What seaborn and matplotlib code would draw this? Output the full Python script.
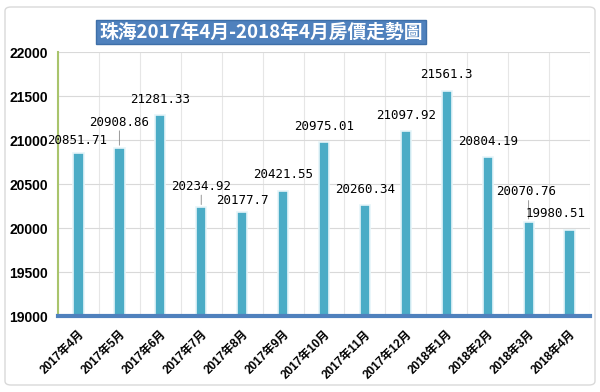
import matplotlib
matplotlib.use("Agg")
import matplotlib.pyplot as plt
import seaborn as sns
import pandas as pd
from matplotlib.patches import FancyBboxPatch

months = ["2017年4月", "2017年5月", "2017年6月", "2017年7月", "2017年8月", "2017年9月",
          "2017年10月", "2017年11月", "2017年12月", "2018年1月", "2018年2月", "2018年3月",
          "2018年4月"]
prices = [20851.71, 20908.86, 21281.33, 20234.92, 20177.7, 20421.55,
          20975.01, 20260.34, 21097.92, 21561.3, 20804.19, 20070.76, 19980.51]
price_labels = ["20851.71", "20908.86", "21281.33", "20234.92", "20177.7", "20421.55",
                "20975.01", "20260.34", "21097.92", "21561.3", "20804.19", "20070.76",
                "19980.51"]
title = "珠海2017年4月-2018年4月房價走勢圖"

# label offsets (pixels) from each bar top
label_dx = [-1, 0, 0, 0, 0, 0, 0, 0, 0, 0, 0, -2, -14]
label_dy = [13, 26, 16, 21, 12, 16, 16, 16, 16, 16, 16, 30, 16]

df = pd.DataFrame({"month": months, "price": prices})

sns.set_theme(style="white")
plt.rcParams["font.family"] = ["Liberation Sans", "Noto Sans CJK SC", "DejaVu Sans"]

fig = plt.figure(figsize=(6, 3.92), dpi=100)
ax = fig.add_axes([58 / 600, 1 - 316 / 392, 532 / 600, 264 / 392])

sns.barplot(data=df, x="month", y="price", color="#4BACC6", saturation=1,
            width=0.25, edgecolor="#E6F5F9", linewidth=1.2, ax=ax, zorder=3)

ax.set_ylim(19000, 22000)
ax.set_xlim(-0.5, len(months) - 0.5)
ax.set_yticks(range(19000, 22001, 500))
ax.set_xticks([i - 0.5 for i in range(len(months) + 1)], minor=True)
ax.set_xlabel("")
ax.set_ylabel("")

ax.grid(axis="y", which="major", color="#D9D9D9", lw=0.8, zorder=0)
ax.grid(axis="x", which="minor", color="#E6E6E6", lw=0.8, zorder=0)
ax.set_axisbelow(True)

for s in ["top", "right"]:
    ax.spines[s].set_visible(False)
ax.spines["left"].set_color("#A9C46C")
ax.spines["left"].set_linewidth(1.5)
ax.spines["bottom"].set_color("#4F81BD")
ax.spines["bottom"].set_linewidth(3)
ax.spines["bottom"].set_zorder(5)

ax.tick_params(axis="x", which="major", length=0, pad=9)
ax.tick_params(axis="x", which="minor", length=4, width=1.5, color="#4F81BD", direction="out")
ax.tick_params(axis="y", length=0, pad=7)

for t in ax.get_yticklabels():
    t.set_fontsize(10)
    t.set_fontweight("bold")
    t.set_color("black")
for t in ax.get_xticklabels():
    t.set_fontsize(8.5)
    t.set_fontweight("bold")
    t.set_color("black")
    t.set_rotation(45)
    t.set_ha("right")
    t.set_va("top")
    t.set_rotation_mode("anchor")

for i, (v, lab) in enumerate(zip(prices, price_labels)):
    ax.annotate(lab, xy=(i, v), xytext=(label_dx[i], label_dy[i]),
                textcoords="offset pixels", ha="center", va="center",
                fontsize=9, family="DejaVu Sans Mono", color="black", zorder=6)
    if label_dy[i] > 20:
        ax.annotate("", xy=(i, v), xytext=(i, v + (label_dy[i] - 6) / 88 * 1000),
                    arrowprops=dict(arrowstyle="-", color="#888888", lw=0.6), zorder=6)

# title box
fig.text(261 / 600, 1 - 32 / 392, title, ha="center", va="center", fontsize=13.5,
         fontweight="bold", color="white", family=["Noto Sans CJK TC", "DejaVu Sans"],
         bbox=dict(boxstyle="square,pad=0.15", facecolor="#4F81BD", edgecolor="#3E6FA8"))

# outer frame
frame = FancyBboxPatch((5 / 600, 7 / 392), 590 / 600, 378 / 392,
                       boxstyle="round,pad=0,rounding_size=0.01",
                       transform=fig.transFigure, facecolor="none",
                       edgecolor="#D9D9D9", lw=1, zorder=0)
fig.patches.append(frame)

fig.savefig("out.png", dpi=100)
